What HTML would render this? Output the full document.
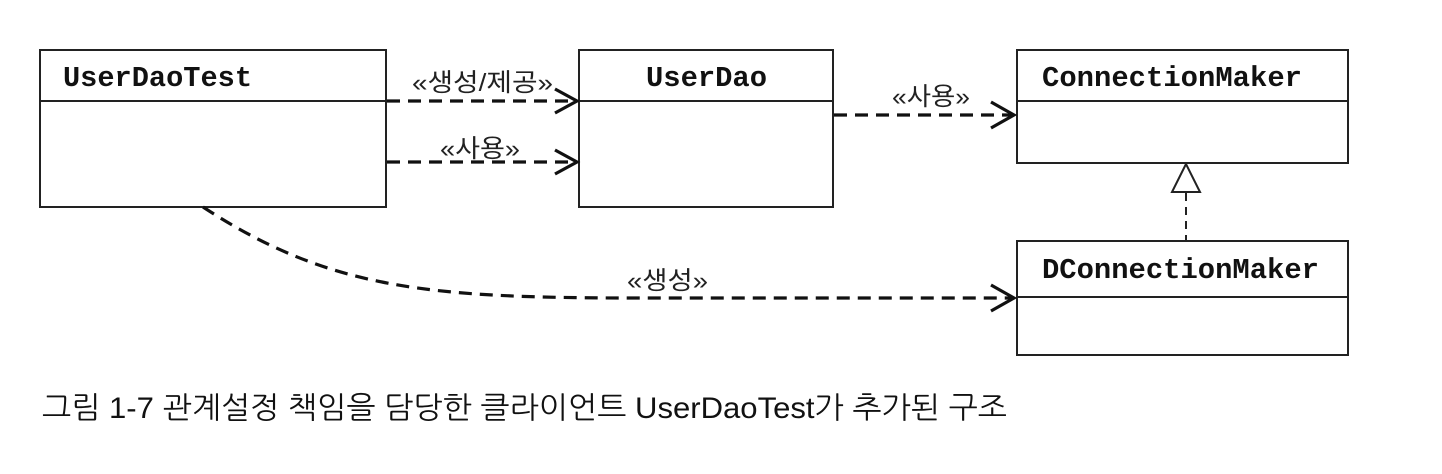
<!DOCTYPE html>
<html>
<head>
<meta charset="utf-8">
<style>
  html, body { margin:0; padding:0; background:#fff; }
  body { width:1442px; height:474px; overflow:hidden; }
  svg { display:block; }
  .mono { font-family: "Liberation Mono", monospace; font-weight:bold; font-size:28.8px; fill:#111; }
  .lbl { font-family: "Liberation Sans", "Noto Sans CJK KR", "NanumGothic", sans-serif; font-size:25px; fill:#222; }
  .cap { font-family: "Liberation Sans", "NanumGothic", "Noto Sans CJK KR", sans-serif; font-size:30px; fill:#111; }
</style>
</head>
<body>
<svg width="1442" height="474" viewBox="0 0 1442 474" xmlns="http://www.w3.org/2000/svg">
  <rect x="0" y="0" width="1442" height="474" fill="#fff"/>

  <!-- Boxes -->
  <g fill="#fff" stroke="#222" stroke-width="2">
    <rect x="40" y="50" width="346" height="157"/>
    <line x1="40" y1="101" x2="386" y2="101"/>
    <rect x="579" y="50" width="254" height="157"/>
    <line x1="579" y1="101" x2="833" y2="101"/>
    <rect x="1017" y="50" width="331" height="113"/>
    <line x1="1017" y1="101" x2="1348" y2="101"/>
    <rect x="1017" y="241" width="331" height="114"/>
    <line x1="1017" y1="297" x2="1348" y2="297"/>
  </g>

  <!-- Box titles -->
  <text class="mono" x="63" y="86" textLength="189" lengthAdjust="spacingAndGlyphs">UserDaoTest</text>
  <text class="mono" x="646" y="86" textLength="121" lengthAdjust="spacingAndGlyphs">UserDao</text>
  <text class="mono" x="1042" y="86" textLength="260" lengthAdjust="spacingAndGlyphs">ConnectionMaker</text>
  <text class="mono" x="1042" y="278" textLength="277" lengthAdjust="spacingAndGlyphs">DConnectionMaker</text>

  <!-- Dashed connectors -->
  <g fill="none" stroke="#111" stroke-width="3.2" stroke-dasharray="13 8">
    <line x1="387" y1="101" x2="574" y2="101"/>
    <line x1="387" y1="162" x2="574" y2="162"/>
    <line x1="834" y1="115" x2="1011" y2="115"/>
    <path d="M203,207 C330,290 430,298 640,298 L1011,298"/>
  </g>

  <!-- Open arrowheads -->
  <g fill="none" stroke="#111" stroke-width="3.2" stroke-linejoin="miter">
    <polyline points="555,89 577,101 555,113"/>
    <polyline points="555,150 577,162 555,174"/>
    <polyline points="991,102 1014,115 991,128"/>
    <polyline points="991,285 1014,298 991,311"/>
  </g>

  <!-- Realization -->
  <line x1="1186" y1="193" x2="1186" y2="241" stroke="#222" stroke-width="2" stroke-dasharray="8 6"/>
  <polygon points="1186,164 1172,192 1200,192" fill="#fff" stroke="#222" stroke-width="2"/>

  <!-- Labels -->
  <text class="lbl" x="412" y="91" textLength="141" lengthAdjust="spacingAndGlyphs">«생성/제공»</text>
  <text class="lbl" x="440" y="157" textLength="80" lengthAdjust="spacingAndGlyphs">«사용»</text>
  <text class="lbl" x="892" y="105" textLength="78" lengthAdjust="spacingAndGlyphs">«사용»</text>
  <text class="lbl" x="627" y="289" textLength="81" lengthAdjust="spacingAndGlyphs">«생성»</text>

  <!-- Caption -->
  <text class="cap" x="42" y="418" textLength="965" lengthAdjust="spacingAndGlyphs">그림 1-7 관계설정 책임을 담당한 클라이언트 UserDaoTest가 추가된 구조</text>
</svg>
</body>
</html>
